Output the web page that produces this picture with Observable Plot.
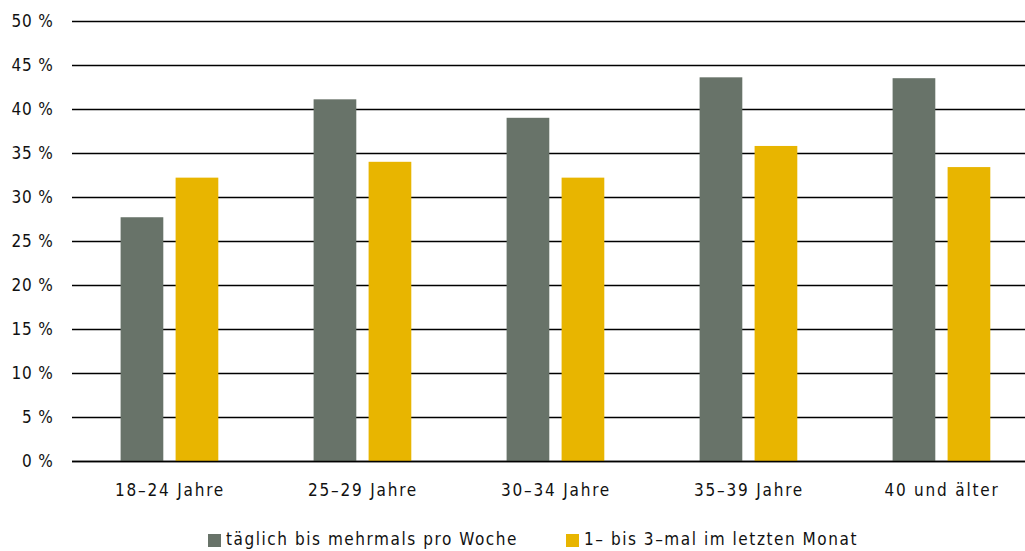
<!DOCTYPE html>
<html>
<head>
<meta charset="utf-8">
<script src="https://cdn.jsdelivr.net/npm/d3@7"></script>
<script src="https://cdn.jsdelivr.net/npm/@observablehq/plot@0.6"></script>
<style>
  body { margin: 0; background: #fff; font-family: "DejaVu Sans Condensed", "DejaVu Sans", sans-serif; }
  #legend { display: flex; align-items: center; margin-left: 208px; margin-top: 14px; font-size: 17px; letter-spacing: 1.55px; color: #111; }
  .item { display: flex; align-items: center; }
  .sw { width: 13px; height: 13px; display: inline-block; margin-right: 5px; margin-top: 3px; }
  .xax text { letter-spacing: 1.8px; }
  .yax text { letter-spacing: 0.8px; }
</style>
</head>
<body>
<div id="chart"></div>
<div id="legend"></div>
<script>
const categories = ["18–24 Jahre", "25–29 Jahre", "30–34 Jahre", "35–39 Jahre", "40 und älter"];
const seriesNames = ["täglich bis mehrmals pro Woche", "1– bis 3–mal im letzten Monat"];
const seriesA = [27.7, 41.1, 39.0, 43.6, 43.5];
const seriesB = [32.2, 34.0, 32.2, 35.8, 33.4];
const yTicks = [0, 5, 10, 15, 20, 25, 30, 35, 40, 45, 50];
const colors = ["#687369", "#E8B500"];

const dataA = categories.map((c, i) => ({cat: c, value: seriesA[i]}));
const dataB = categories.map((c, i) => ({cat: c, value: seriesB[i]}));

const chart = Plot.plot({
  width: 1025,
  height: 515,
  marginLeft: 72,
  marginRight: -14,
  marginTop: 21,
  marginBottom: 54,
  style: {fontFamily: "'DejaVu Sans Condensed', 'DejaVu Sans', sans-serif", fontSize: "17px", color: "#111", background: "#fff"},
  x: {domain: categories, padding: 0, label: null, axis: null},
  y: {domain: [0, 50], label: null, axis: null},
  marks: [
    Plot.axisX({tickSize: 0, tickPadding: 22, className: "xax", fontSize: 17}),
    Plot.axisY(yTicks, {tickSize: 0, tickPadding: 19, tickFormat: d => d + " %", className: "yax", fontSize: 17}),
    Plot.ruleY(yTicks, {stroke: "#000", strokeWidth: 1.3}),
    Plot.barY(dataA, {x: "cat", y: "value", fill: colors[0], insetLeft: 47.6, insetRight: 102.7}),
    Plot.barY(dataB, {x: "cat", y: "value", fill: colors[1], insetLeft: 102.6, insetRight: 47.7}),
    Plot.ruleY([0], {stroke: "#000", strokeWidth: 1.6})
  ]
});
document.getElementById("chart").appendChild(chart);

const legend = document.getElementById("legend");
seriesNames.forEach((name, i) => {
  const item = document.createElement("div");
  item.className = "item";
  if (i > 0) item.style.marginLeft = "48px";
  item.innerHTML = `<span class="sw" style="background:${colors[i]}"></span><span>${name}</span>`;
  legend.appendChild(item);
});
</script>
</body>
</html>
